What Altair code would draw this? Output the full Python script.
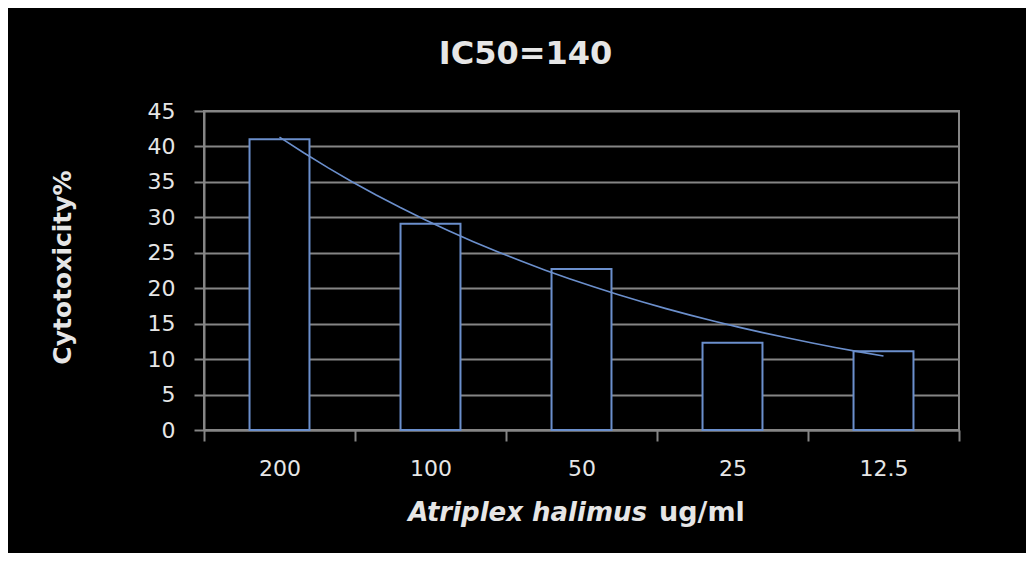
import altair as alt
import pandas as pd

# ---- data ----
concentrations = ["200", "100", "50", "25", "12.5"]
cytotoxicity = [41.0, 29.1, 22.7, 12.3, 11.1]
y_ticks = [0, 5, 10, 15, 20, 25, 30, 35, 40, 45]
chart_title = "IC50=140"
y_title = "Cytotoxicity%"
x_title_italic = ["Atriplex halimus"]
x_title_plain = ["ug/ml"]

FONT = "DejaVu Sans"
TEXT = "#e6e6e6"
GRID = "#858585"
BLUE = "#6b8fcc"

df = pd.DataFrame({"conc": concentrations, "value": cytotoxicity})

base = alt.Chart(df).transform_window(idx="row_number()")

y_axis = alt.Axis(
    values=y_ticks,
    title=y_title,
    titleFont=FONT,
    titleFontSize=25,
    titleFontWeight="bold",
    titleColor=TEXT,
    titleAngle=270,
    titleAlign="center",
    titleBaseline="middle",
    titleX=-142,
    titleY=156,
    labelFont=FONT,
    labelFontSize=22,
    labelColor=TEXT,
    labelPadding=19,
    labelOverlap=False,
    tickSize=10,
    tickColor=GRID,
    tickWidth=2,
    domainColor=GRID,
    domainWidth=2,
    grid=True,
    gridColor=GRID,
    gridWidth=2,
)
y_scale = alt.Scale(domain=[0, 45], nice=False)

bars = base.mark_bar(
    fill="#000000", stroke=BLUE, strokeWidth=2, width=alt.RelativeBandSize(0.397)
).encode(
    x=alt.X(
        "conc:N",
        sort=None,
        scale=alt.Scale(paddingInner=0, paddingOuter=0),
        axis=alt.Axis(
            title=None,
            labelAngle=0,
            labelFont=FONT,
            labelFontSize=22,
            labelColor=TEXT,
            labelPadding=17,
            tickBand="extent",
            tickSize=11,
            tickColor=GRID,
            tickWidth=2,
            domainColor=GRID,
            domainWidth=2,
            grid=False,
        ),
    ),
    y=alt.Y("value:Q", scale=y_scale, axis=y_axis),
)

trend = base.transform_regression(
    "idx", "value", method="exp", extent=[1, 5]
).mark_line(color=BLUE, strokeWidth=1.6).encode(
    x=alt.X("idx:Q", scale=alt.Scale(domain=[0.5, 5.5], nice=False, zero=False), axis=None),
    y=alt.Y("value:Q", scale=y_scale, axis=y_axis),
)

xt1 = alt.Chart(pd.DataFrame({"t": x_title_italic})).mark_text(
    font=FONT, fontSize=26, fontWeight="bold", fontStyle="italic",
    color=TEXT, align="right", baseline="alphabetic",
).encode(text="t:N", x=alt.value(443), y=alt.value(410))

xt2 = alt.Chart(pd.DataFrame({"t": x_title_plain})).mark_text(
    font=FONT, fontSize=27, fontWeight="bold",
    color=TEXT, align="left", baseline="alphabetic",
).encode(text="t:N", x=alt.value(455), y=alt.value(410))

chart = alt.layer(bars, trend, xt1, xt2).resolve_scale(x="independent").properties(
    width=755,
    height=319,
    title=alt.TitleParams(
        chart_title,
        font=FONT,
        fontSize=32,
        fontWeight="bold",
        color=TEXT,
        anchor="middle",
        baseline="alphabetic",
        offset=4,
        dx=-56,
    ),
    autosize=alt.AutoSizeParams(type="none"),
    padding={"left": 196, "top": 103, "right": 67, "bottom": 123},
).configure(
    background="#000000",
).configure_view(
    stroke=GRID, strokeWidth=2
)

chart.save("out.html", embed_options={"renderer": "svg", "actions": False})
